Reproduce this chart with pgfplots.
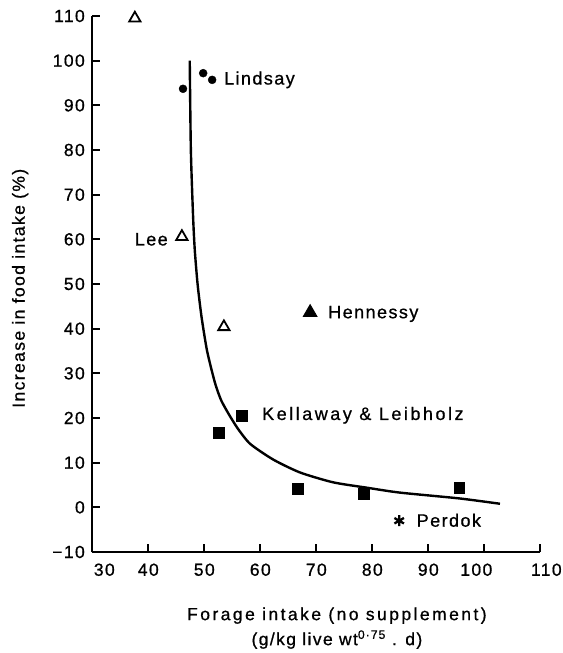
\documentclass[border=0pt]{standalone}
\usepackage{fontspec}
\setmainfont{Liberation Sans}[LetterSpace=8, FakeBold=0.8]
\usepackage{pgfplots}
\pgfplotsset{compat=1.18}
\begin{document}
\begin{tikzpicture}
\begin{axis}[name=a, scale only axis, width=448pt, height=536pt,
  xmin=30, xmax=110, ymin=-10, ymax=110,
  axis lines*=left, axis line style={line width=2.3pt},
  tick align=inside, major tick length=8pt, tick style={line width=1.8pt, black},
  xtick={30,40,50,60,70,80,90,100,110},
  ytick={-10,0,10,20,30,40,50,60,70,80,90,100,110},
  xticklabels={\hspace*{24pt}30,40,50,60,70,80,90,100\hspace*{16pt},\hspace*{12pt}110},
  yticklabels={−10,0,10,20,30,40,50,60,70,80,90,100,110},
  ticklabel style={font=\fontsize{17.5}{20}\selectfont},
  yticklabel style={xshift=-4pt},
  xticklabel style={yshift=-8pt},
  xlabel={{\addfontfeatures{LetterSpace=14}Forage intake (no supplement)}\\(g/kg live wt\textsuperscript{0·75} . d)},
  xlabel style={at={(axis description cs:0.546,-0.142)}, anchor=center, align=center, font=\fontsize{17.5}{25}\selectfont},
  ylabel={Increase in food intake (\%)},
  ylabel style={at={(axis description cs:-0.161,0.492)}, anchor=center, font=\fontsize{17.5}{20}\selectfont},
  clip=false]
% fitted curve
\addplot[black, line width=2.4pt, smooth, tension=0.4] coordinates {
  (47.4,100) (47.6,80) (48.0,65) (48.3,57.6) (48.8,50) (49.5,42.7) (50.5,35)
  (51.9,27.9) (53.0,24) (54.4,20.8) (56,17.6) (58.2,14.2) (62.3,10.7) (67.1,7.8)
  (73,5.6) (79,4.4) (84.9,3.3) (95.5,2.0) (102.8,0.8)};
% open triangles
\addplot[only marks, mark=triangle, mark size=6.5pt, mark options={line width=1.8pt, fill=white, black}] coordinates {
  (37.6,109.5) (46.0,60.6) (53.5,40.4)};
% filled circles (Lindsay)
\addplot[only marks, mark=*, mark size=4pt, mark options={black, fill=black}] coordinates {
  (46.2,93.7) (49.8,97.2) (51.4,95.7)};
% filled triangle (Hennessy)
\addplot[only marks, mark=triangle*, mark size=8pt, mark options={black, fill=black, line width=0.8pt}] coordinates {
  (68.9,43.6)};
% filled squares
\addplot[only marks, mark=square*, mark size=5.4pt, mark options={black, fill=black}] coordinates {
  (56.7,20.5) (52.6,16.7) (66.7,4.2) (78.5,3.1) (95.5,4.4)};
% asterisk (Perdok)
\addplot[only marks, mark=asterisk, mark size=5.5pt, mark options={black, line width=2.3pt}] coordinates {
  (84.8,-3.0)};
\node[anchor=west, inner sep=0pt, font=\fontsize{18}{20}\selectfont] at (axis cs:53.5,95.7) {Lindsay};
\node[anchor=east, inner sep=0pt, font=\fontsize{18}{20}\selectfont] at (axis cs:43.5,60.0) {Lee};
\node[anchor=west, inner sep=0pt, font=\fontsize{18}{20}\selectfont] at (axis cs:72.1,43.3) {Hennessy};
\node[anchor=west, inner sep=0pt, font=\fontsize{18}{20}\selectfont\addfontfeatures{LetterSpace=14}] at (axis cs:60.3,20.6) {Kellaway \& Leibholz};
\node[anchor=west, inner sep=0pt, font=\fontsize{18}{20}\selectfont] at (axis cs:87.9,-2.9) {Perdok};
\end{axis}
\pgfresetboundingbox
\path[use as bounding box] ([xshift=-92.3pt,yshift=-101pt]a.south west) rectangle ([xshift=22.7pt,yshift=16pt]a.north east);
\end{tikzpicture}
\end{document}
